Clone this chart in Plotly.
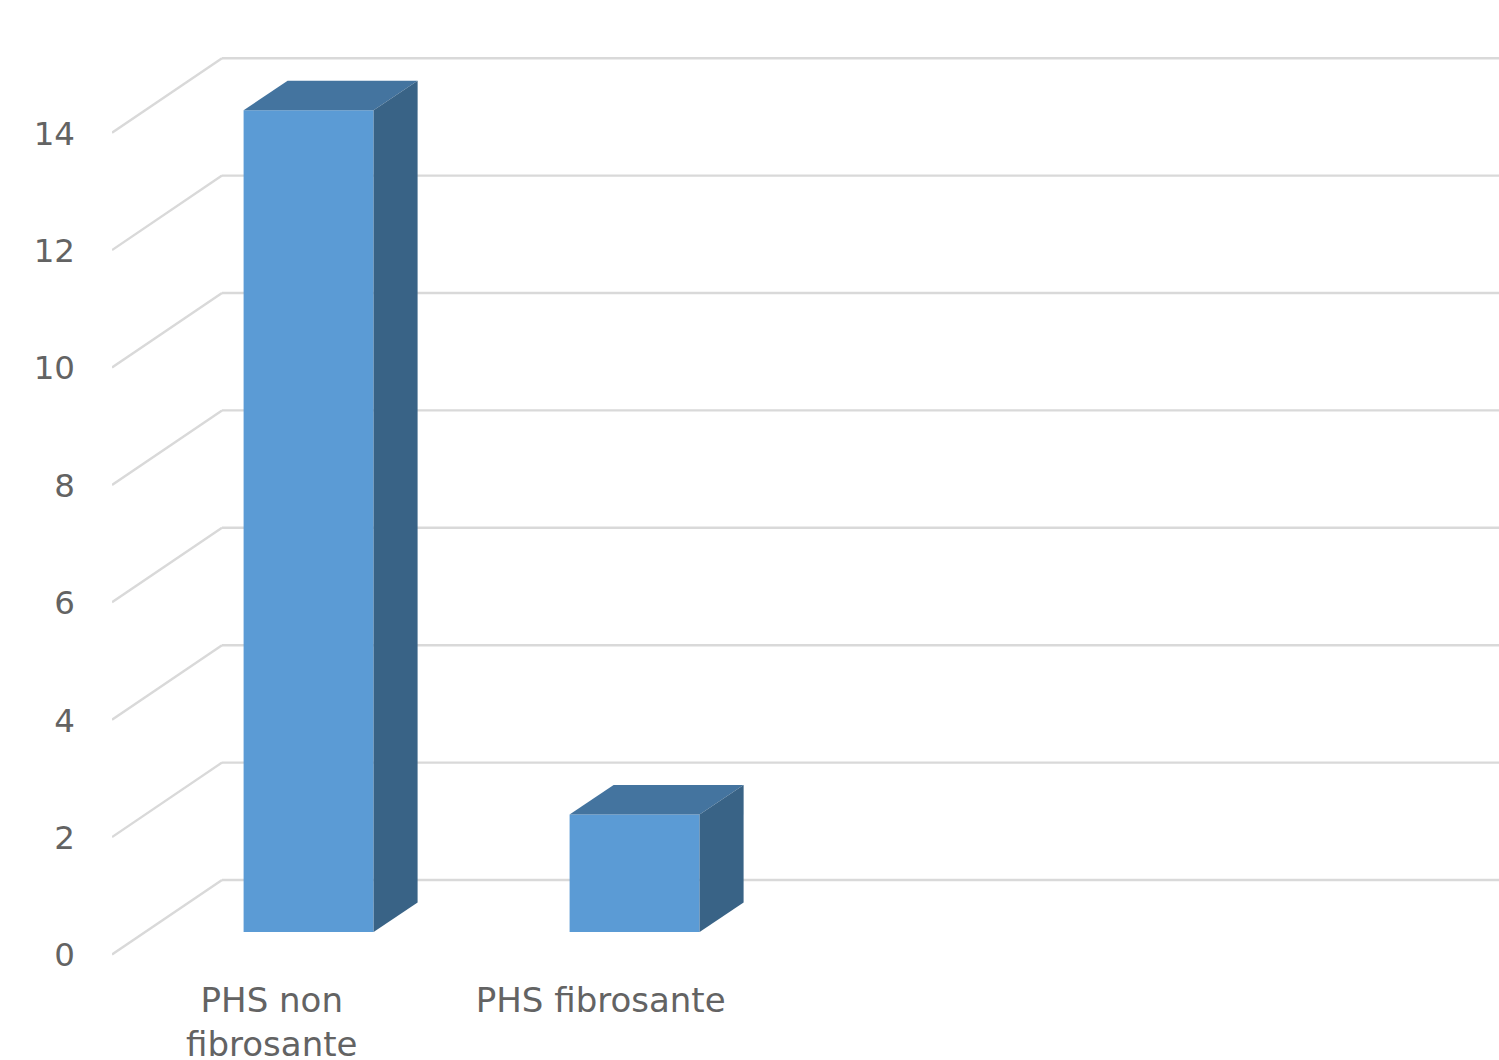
import plotly.graph_objects as go

categories = ["PHS non<br>fibrosante", "PHS fibrosante"]
values = [14, 2]
tick_values = [0, 2, 4, 6, 8, 10, 12, 14]
label_offsets = [-0.113, -0.104]

FRONT = "#5B9BD5"
TOP = "#44749F"
SIDE = "#396386"
GRID = "#D9D9D9"
TEXT = "#636363"

PX_X = 326.0
PX_Y = 58.7
BAR_W = 130 / PX_X
FLOOR = 20 / PX_Y
BAR_DX = 44 / PX_X
BAR_DY = 29.5 / PX_Y
WALL_DX = 110 / PX_X
WALL_DY = 72 / PX_Y
FRONT_DROP = 2.5 / PX_Y
X_MIN = (112 - 308.6) / PX_X
X_MAX = (1499 - 308.6) / PX_X
Y_MIN = -8 / PX_Y
FONT = "DejaVu Sans"
Y_FONT_SIZE = 32.5
X_FONT_SIZE = 34

fig = go.Figure()
fig.add_trace(go.Bar(x=list(range(len(values))), y=values, base=[FLOOR] * len(values),
                     width=BAR_W, marker=dict(color=FRONT, line=dict(width=0)),
                     hoverinfo="skip", showlegend=False))

for i, v in enumerate(values):
    l, r = i - BAR_W / 2, i + BAR_W / 2
    t = FLOOR + v
    fig.add_trace(go.Scatter(x=[l, l + BAR_DX, r + BAR_DX, r, l],
                             y=[t, t + BAR_DY, t + BAR_DY, t, t],
                             fill="toself", fillcolor=TOP, mode="lines", line=dict(width=0),
                             hoverinfo="skip", showlegend=False))
    fig.add_trace(go.Scatter(x=[r, r + BAR_DX, r + BAR_DX, r, r],
                             y=[t, t + BAR_DY, FLOOR + BAR_DY, FLOOR, t],
                             fill="toself", fillcolor=SIDE, mode="lines", line=dict(width=0),
                             hoverinfo="skip", showlegend=False))

shapes = []
line = dict(color=GRID, width=2.4)
for v in tick_values:
    shapes.append(dict(type="line", layer="below", xref="x", yref="y", line=line,
                       x0=X_MIN, y0=v - FRONT_DROP, x1=X_MIN + WALL_DX, y1=v + WALL_DY))
    shapes.append(dict(type="line", layer="below", xref="x", yref="y", line=line,
                       x0=X_MIN + WALL_DX, y0=v + WALL_DY, x1=X_MAX, y1=v + WALL_DY))

fig.update_layout(
    width=1499, height=1060, autosize=False,
    margin=dict(l=112, r=0, t=40, b=100, pad=0),
    paper_bgcolor="white", plot_bgcolor="white",
    font=dict(family=FONT, size=Y_FONT_SIZE, color=TEXT),
    shapes=shapes, showlegend=False,
    xaxis=dict(range=[X_MIN, X_MAX], tickmode="array", automargin=False,
               tickvals=[i + d for i, d in enumerate(label_offsets)],
               ticktext=categories, showgrid=False, zeroline=False, showline=False,
               ticks="", ticklabelstandoff=17, tickfont=dict(family=FONT, size=X_FONT_SIZE, color=TEXT)),
    yaxis=dict(range=[Y_MIN, 912 / PX_Y], tickmode="array", tickvals=tick_values, automargin=False,
               ticktext=[str(v) for v in tick_values], showgrid=False, zeroline=False,
               showline=False, ticks="", ticklabelstandoff=36, ticklabelshift=3,
               tickfont=dict(family=FONT, size=Y_FONT_SIZE, color=TEXT)),
)
fig.write_html("out.html", config=dict(displayModeBar=False),
               post_script="document.body.style.margin='0';")
